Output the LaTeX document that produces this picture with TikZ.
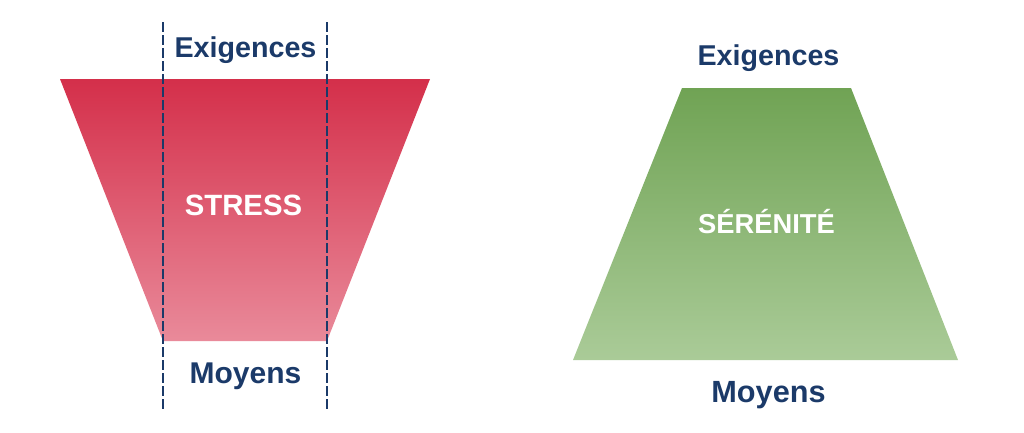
\documentclass[tikz,border=0pt]{standalone}
\usepackage{fontspec}
\setmainfont{Liberation Sans}
\usepackage{tikz}

\definecolor{txtblue}{RGB}{27,58,105}
\definecolor{redtop}{RGB}{212,47,74}
\definecolor{redbot}{RGB}{233,138,154}
\definecolor{greentop}{RGB}{112,163,84}
\definecolor{greenbot}{RGB}{170,203,152}

\begin{document}
\begin{tikzpicture}[x=0.75pt,y=0.75pt,yscale=-1,xscale=1,
    lbl/.style={anchor=base,inner sep=0.75pt,font=\fontsize{21.5}{24}\selectfont\bfseries,color=txtblue},
    inlbl/.style={anchor=base,inner sep=0.75pt,font=\fontsize{20.5}{24}\selectfont\bfseries,color=white},
    guide/.style={draw=txtblue,line width=1.1pt,dash pattern=on 7.5pt off 2.25pt}]
        \useasboundingbox (0,0) rectangle (1024,432);

        %Shape: Trapezoid STRESS
        \shade [top color=redtop,bottom color=redbot] (60,79) -- (430,79) -- (327,341) -- (163,341) -- cycle ;
        %Shape: Trapezoid SERENITE
        \shade [top color=greentop,bottom color=greenbot] (682,88) -- (851,88) -- (958,360) -- (573,360) -- cycle ;

        %Straight Lines (guides)
        \coordinate (gLtop) at (163,22);
        \coordinate (gLbot) at (163,409);
        \coordinate (gRtop) at (327,22);
        \coordinate (gRbot) at (327,409);
        \draw [guide] (gLtop) -- (gLbot) ;
        \draw [guide] (gRtop) -- (gRbot) ;

        % Text Node
        \node (exigL) at (245.5,57) [lbl] {Exigences};
        % Text Node
        \node (moyL) at (245.5,383) [lbl,font=\fontsize{22.5}{24}\selectfont\bfseries] {Moyens};
        % Text Node
        \node (stress) at (243.5,215) [inlbl,font=\fontsize{22}{24}\selectfont\bfseries] {STRESS};
        % Text Node
        \node (exigR) at (768.5,65) [lbl] {Exigences};
        % Text Node
        \node (moyR) at (768.5,402) [lbl,font=\fontsize{23}{24}\selectfont\bfseries] {Moyens};
        % Text Node
        \node (serenite) at (766.5,233) [inlbl] {SÉRÉNITÉ};

\end{tikzpicture}
\end{document}
